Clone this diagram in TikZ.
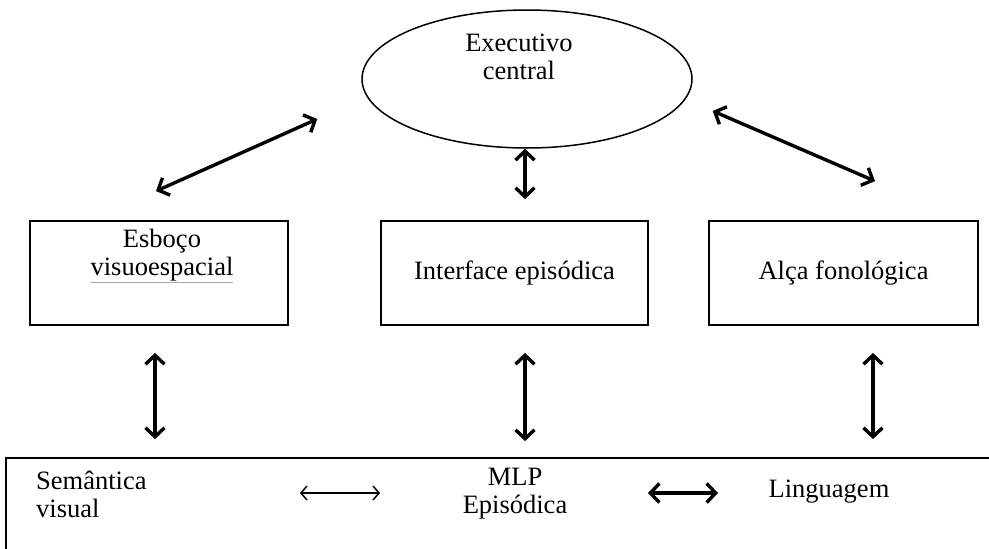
\documentclass[tikz,border=0pt]{standalone}
\usepackage{fontspec}
\setmainfont{Liberation Serif}
\usetikzlibrary{shapes.geometric,arrows.meta,calc}

\tikzset{
  txt/.style={font=\fontsize{26.5}{28}\selectfont, align=center, inner sep=0pt},
  blk/.style={draw, line width=1.8pt, minimum width=#1, minimum height=104pt, inner sep=0pt,
    font=\fontsize{26.5}{28}\selectfont},
  dbl/.style={{Straight Barb[length=9pt,width=19pt]}-{Straight Barb[length=9pt,width=19pt]},
    line width=3.4pt},
  lite/.style={{Straight Barb[length=6pt,width=14pt]}-{Straight Barb[length=6pt,width=14pt]},
    line width=1.5pt}
}

\begin{document}
\begin{tikzpicture}[x=1pt,y=-1pt]

\useasboundingbox (0,0) rectangle (989,549);
\clip (0,0) rectangle (989,549);

% Executivo central
\node[ellipse, draw, line width=1.5pt, minimum width=330pt, minimum height=138pt] (exec) at (527,79) {};
\node[txt] (exectxt) at (519,57) {Executivo\\central};

% the three slave systems
\node[blk=258pt] (esboco) at (159,273) {};
\node[txt] (esbtxt) at (162,256) {Esboço\\{\color{gray!70}\underline{\textcolor{black}{visuoespacial}}}};
\node[blk=267pt] (interface) at (514.5,273) {Interface episódica};
\node[blk=269pt] (alca) at (843.5,273) {Alça fonológica};

% long-term memory strip (cut by the page)
\node[draw, line width=1.8pt, minimum width=994pt, minimum height=110pt, inner sep=0pt] (ltm) at (503,513) {};
\node[txt, anchor=west, align=left] (semvis) at (36,494) {Semântica\\visual};
\node[txt] (mlp) at (515,494) {MLP\\Episódica};
\node[txt] (ling) at (829,492) {Linguagem};

% links with the executive
\draw[dbl] ([shift={(-3,-29)}]esboco.north) -- ([shift={(-44,40)}]exec.west);
\draw[dbl] ([shift={(20,32)}]exec.east) -- ([shift={(31.5,-39)}]alca.north);
\draw[dbl] ([xshift=-2pt]exec.south) -- ([shift={(10.5,-21)}]interface.north);

% links down to long-term memory
\draw[dbl, shorten <=27pt, shorten >=18pt] ($(esboco.south)+(-4,0)$) -- ($(esboco.south |- ltm.north)+(-4,0)$);
\draw[dbl, shorten <=27pt, shorten >=16pt] ($(interface.south)+(10.5,0)$) -- ($(interface.south |- ltm.north)+(10.5,0)$);
\draw[dbl, shorten <=27pt, shorten >=18pt] ($(alca.south)+(29.5,0)$) -- ($(alca.south |- ltm.north)+(29.5,0)$);

% inside the strip
\coordinate (h1a) at (300,493);
\coordinate (h1b) at (380,493);
\coordinate (h2a) at (648,493);
\coordinate (h2b) at (718,493);
\draw[lite] (h1a) -- (h1b);
\draw[dbl] (h2a) -- (h2b);

\end{tikzpicture}
\end{document}
